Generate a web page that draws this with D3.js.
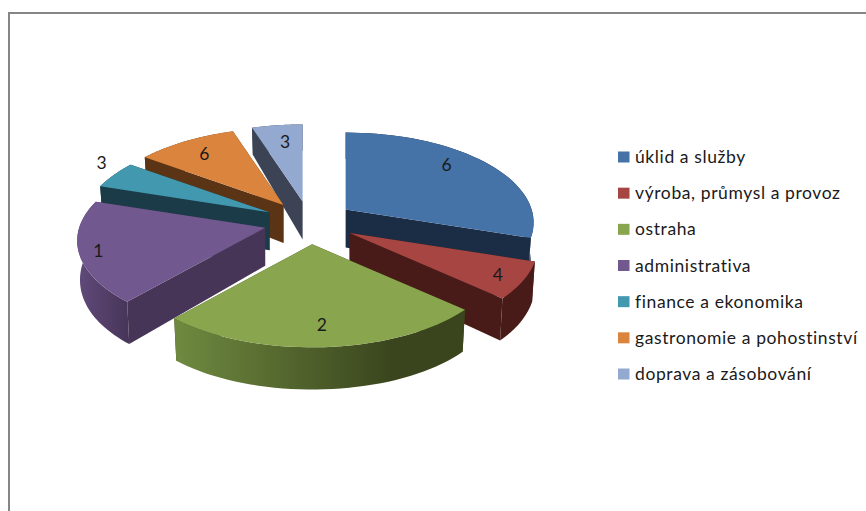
<!DOCTYPE html>
<html lang="cs">
<head>
    <meta charset="UTF-8">
    <title>Pie 3D</title>
    <script src="https://d3js.org/d3.v7.min.js"></script>
    <style>
        html, body { margin: 0; padding: 0; background: #fff; overflow: hidden; }
        svg { display: block; }
        text { font-family: Lato, "Open Sans", sans-serif; fill: #1a1a1a; }
    </style>
</head>
<body>
<svg width="866" height="511"></svg>
<script>
    // data: slice shares in percent, printed labels are separate
    const categories = ["úklid a služby", "výroba, průmysl a provoz", "ostraha", "administrativa",
        "finance a ekonomika", "gastronomie a pohostinství", "doprava a zásobování"];
    const shares = [30, 6.7, 24.8, 18.5, 5, 10, 5];
    const dataLabels = ["6", "4", "2", "1", "3", "6", "3"];

    const topColors = ["#4572a7", "#a74543", "#89a54e", "#71588f", "#4198af", "#db843d", "#93a9cf"];
    const sideColors = ["#1b2d45", "#481b18", "#3a451d", "#473558", "#1a3b47", "#5b3415", "#3b4355"];
    const rimColors = ["#1b2d45", "#481b18", "#6f8a40", "#604a7a", "#1a3b47", "#5b3415", "#3b4355"];

    const svg = d3.select("svg");

    // chart frame runs off the window on the right and bottom
    svg.append("rect")
        .attr("x", 9).attr("y", 13).attr("width", 1000).attr("height", 1000)
        .attr("fill", "#fff").attr("stroke", "#868686").attr("stroke-width", 2);

    // --- fake 3D: circle plane projected with a little perspective ---
    const cx = 309.5, cy = 222, explode = 0.245;
    // label placement: radius and angle shift (degrees) from the slice middle
    const labelR = [0.8, 0.87, 0.81, 0.9, 1.16, 0.79, 0.75];
    const labelShift = [-7, 1, 0, -1, 5, 0, 1];

    function topPlane(r, a) {
        const u = r * Math.sin(a), v = -r * Math.cos(a), w = 1 - 0.1445 * v;
        return [186 * u / w, 88.1 * v / w];
    }
    function bottomPlane(r, a) {
        const v = -r * Math.cos(a), w = 1 - 0.095 * v;
        return [topPlane(r, a)[0] * 0.985, 38 + 97 * v / w];
    }

    const pie = d3.pie().sort(null).startAngle(0).endAngle(2 * Math.PI);
    const slices = pie(shares).map((d, i) => {
        const mid = (d.startAngle + d.endAngle) / 2;
        const off = topPlane(explode, mid);
        return { i, start: d.startAngle, end: d.endAngle, mid, ox: cx + off[0], oy: cy + off[1] };
    });

    const line = d3.line();
    const defs = svg.append("defs");
    const chart = svg.append("g");

    // painter's order: slices furthest back first
    slices.slice().sort((a, b) => Math.cos(b.mid) - Math.cos(a.mid)).forEach(s => {
        const g = chart.append("g").attr("transform", `translate(${s.ox},${s.oy})`);
        const angles = d3.range(0, 41).map(k => s.start + (s.end - s.start) * k / 40);
        const topArc = angles.map(a => topPlane(1, a));
        const botArc = angles.map(a => bottomPlane(1, a));
        const topApex = [0, 0], botApex = bottomPlane(0, 0);

        // radial walls
        [[topArc[0], botArc[0]], [topArc[40], botArc[40]]].forEach(w => {
            g.append("path")
                .attr("d", line([topApex, w[0], w[1], botApex]) + "Z")
                .attr("fill", sideColors[s.i]);
        });

        // rim, lighter towards the left on the front slices
        const xs = d3.extent(topArc.concat(botArc), p => p[0]);
        const grad = defs.append("linearGradient")
            .attr("id", "rim" + s.i)
            .attr("gradientUnits", "userSpaceOnUse")
            .attr("x1", xs[0]).attr("x2", xs[1]).attr("y1", 0).attr("y2", 0);
        grad.append("stop").attr("offset", "0%").attr("stop-color", rimColors[s.i]);
        grad.append("stop").attr("offset", s.i === 2 ? "75%" : "100%").attr("stop-color", sideColors[s.i]);
        grad.append("stop").attr("offset", "100%").attr("stop-color", sideColors[s.i]);
        g.append("path")
            .attr("d", line(topArc.concat(botArc.slice().reverse())) + "Z")
            .attr("fill", `url(#rim${s.i})`);

        // top face
        g.append("path")
            .attr("d", line([topApex].concat(topArc)) + "Z")
            .attr("fill", topColors[s.i]);
    });

    // data labels
    const labelPos = d => topPlane(labelR[d.i], d.mid + labelShift[d.i] * Math.PI / 180);
    svg.append("g").selectAll("text")
        .data(slices)
        .join("text")
        .attr("x", d => d.ox + labelPos(d)[0])
        .attr("y", d => d.oy + labelPos(d)[1])
        .attr("dy", "0.35em")
        .attr("text-anchor", "middle")
        .attr("font-size", 17.5)
        .text(d => dataLabels[d.i]);

    // legend
    const legendY = d3.scalePoint().domain(categories).range([157, 374]);
    const legend = svg.append("g").selectAll("g")
        .data(categories)
        .join("g")
        .attr("transform", d => `translate(618,${legendY(d)})`);
    legend.append("rect")
        .attr("y", -5.5).attr("width", 11.5).attr("height", 11)
        .attr("fill", (d, i) => topColors[i]);
    legend.append("text")
        .attr("x", 17).attr("dy", "0.35em")
        .attr("font-size", 17.5)
        .attr("letter-spacing", 0.6)
        .text(d => d);
</script>
</body>
</html>
